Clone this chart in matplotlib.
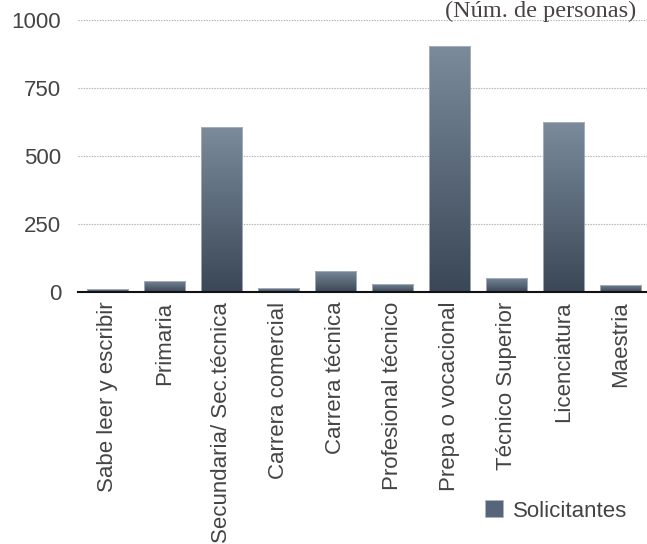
import numpy as np
import matplotlib.pyplot as plt
from matplotlib.colors import LinearSegmentedColormap
from matplotlib.patches import Patch

# datos
categorias = ["Sabe leer y escribir", "Primaria", "Secundaria/ Sec.técnica",
              "Carrera comercial", "Carrera técnica", "Profesional técnico",
              "Prepa o vocacional", "Técnico Superior", "Licenciatura", "Maestria"]
solicitantes = [10, 41, 605, 14, 78, 31, 905, 52, 624, 26]
yticks = [0, 250, 500, 750, 1000]

plt.rcParams['font.family'] = ['Liberation Sans', 'DejaVu Sans']

fig = plt.figure(figsize=(6.47, 5.44), dpi=100)
ax = fig.add_axes([78 / 647, 1 - 292 / 544, 1 - 78 / 647, 272 / 544])

x = np.arange(len(categorias))
bars = ax.bar(x, solicitantes, width=0.72, facecolor='none',
              edgecolor='#aab6c2', linewidth=0.6, zorder=3)

# degradado vertical dentro de cada barra
cmap = LinearSegmentedColormap.from_list('barra', ['#3a4757', '#7b8b9b'])
grad = np.linspace(0, 1, 256).reshape(-1, 1)
for b in bars:
    x0, y0 = b.get_x(), b.get_y()
    im = ax.imshow(grad, extent=[x0, x0 + b.get_width(), y0, y0 + b.get_height()],
                   origin='lower', aspect='auto', cmap=cmap, zorder=2)
    im.set_clip_path(b)

ax.set_xlim(-0.52, 9.47)
ax.set_ylim(0, 1000)
ax.set_yticks(yticks)
ax.set_yticklabels([str(v) for v in yticks], fontsize=16, color='#444444')
ax.set_xticks(x)
ax.set_xticklabels(categorias, rotation=90, fontsize=16, color='#444444')
ax.tick_params(length=0)
ax.tick_params(axis='x', pad=7)
ax.tick_params(axis='y', pad=12)

ax.grid(axis='y', linestyle=(0, (1.2, 1.2)), color='#b0b0b0', linewidth=0.8, zorder=0)
for s in ['left', 'right', 'top']:
    ax.spines[s].set_visible(False)
ax.spines['bottom'].set_color('#111111')
ax.spines['bottom'].set_linewidth(1.5)
ax.spines['bottom'].set_zorder(4)

# en el original el título queda cortado a la derecha; aquí se deja entero
fig.text(445 / 647, 1 - 1 / 544, "(Núm. de personas)", family='Liberation Serif',
         fontsize=17.5, color='#4a4242', ha='left', va='top')

fig.legend(handles=[Patch(facecolor='#56657a', edgecolor='#aab6c2', linewidth=0.5)],
           labels=["Solicitantes"], loc='center left',
           bbox_to_anchor=(485 / 647, 1 - 511 / 544), frameon=False, fontsize=16,
           borderpad=0, borderaxespad=0,
           handlelength=0.8, handleheight=0.8, handletextpad=0.45,
           labelcolor='#444444')

fig.savefig("out.png", dpi=100)
